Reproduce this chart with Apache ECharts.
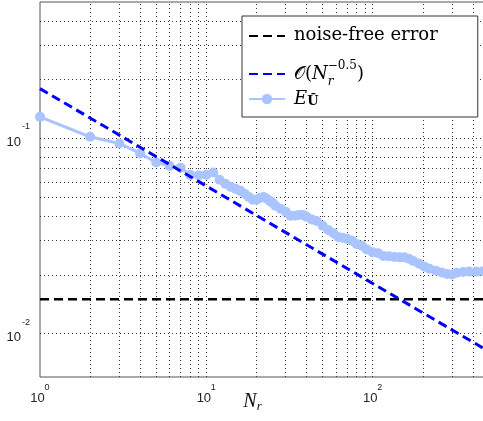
<!DOCTYPE html>
<html>
<head>
<meta charset="utf-8">
<script src="https://cdn.jsdelivr.net/npm/echarts@6/dist/echarts.min.js"></script>
<style>
  html, body { margin: 0; padding: 0; background: #ffffff; }
  #chart { width: 483px; height: 421px; }
</style>
</head>
<body>
<div id="chart"></div>
<script>
// Number of realisations N_r and the measured error E_Ū
const samples = [1, 2, 3, 4, 5, 6, 7, 8, 9, 10, 11, 12, 13, 14, 15, 16, 17, 18, 19, 20, 21, 22, 23, 24, 25, 26,
  28, 30, 32, 34, 36, 38, 40,
  43, 46, 50, 54, 58, 62, 66, 70, 75, 80, 86, 92, 100,
  108, 116, 125, 135, 145, 155, 165, 175, 190, 205, 220, 240, 260, 280, 300, 320, 350, 380, 420, 460, 500];
const errors = [0.129, 0.102, 0.0943, 0.0838, 0.0753, 0.0724, 0.0708, 0.0651, 0.0648, 0.0651,
  0.0669, 0.0614, 0.0586, 0.0565, 0.0552, 0.0539, 0.052, 0.0502, 0.0485, 0.0485, 0.0496, 0.0502, 0.0493, 0.0479, 0.0468, 0.0452,
  0.0436, 0.0421, 0.0402, 0.0402, 0.0406, 0.0406, 0.0397,
  0.0385, 0.0378, 0.0357, 0.034, 0.0327, 0.0313, 0.031, 0.0306, 0.0299, 0.0288, 0.0282, 0.027, 0.0261,
  0.0258, 0.025, 0.0249, 0.0247, 0.0246, 0.0246, 0.0242, 0.0236, 0.0228, 0.022, 0.0215, 0.021, 0.0206, 0.0202, 0.0201, 0.0205, 0.0207, 0.0208, 0.0208, 0.0209, 0.0209];

// Reference lines
const noiseFreeX = [1, 500];
const noiseFreeY = [0.015, 0.015];
const rateX = [1, 500];
const rateY = [0.18, 0.0081];

// Axis ranges and log grid positions
const xRange = [1, 500];
const yRange = [0.006, 0.5];
const xGridValues = [2, 3, 4, 5, 6, 7, 8, 9, 10, 20, 30, 40, 50, 60, 70, 80, 90, 100, 200, 300, 400];
const yGridValues = [0.007, 0.008, 0.009, 0.01, 0.02, 0.03, 0.04, 0.05, 0.06, 0.07, 0.08, 0.09, 0.1, 0.2, 0.3, 0.4];

const pairs = (xs, ys) => xs.map((x, i) => [x, ys[i]]);

// Decade label: the exponent sits on its own short line, shifted so it
// lands just above and to the right of "10".
const powerLabel = v => {
  const e = Math.round(Math.log10(v));
  return '{s|' + e + '}\n{b|10}';
};

const xTickRich = {
  s: { fontFamily: 'Liberation Sans', fontSize: 9, lineHeight: 8, padding: [0, 0, 0, 14], color: '#222' },
  b: { fontFamily: 'Liberation Sans', fontSize: 13, lineHeight: 12, padding: [0, 5, 0, 0], color: '#222' }
};
const yTickRich = {
  s: { fontFamily: 'Liberation Sans', fontSize: 9, lineHeight: 7, color: '#222' },
  b: { fontFamily: 'Liberation Sans', fontSize: 13, lineHeight: 23, padding: [0, 9, 0, 0], color: '#222' }
};

const serif = 'DejaVu Serif';
const legendRich = {
  t: { fontFamily: serif, fontSize: 18, lineHeight: 20, color: '#000', padding: [0, 0, 14, 4], verticalAlign: 'top' },
  t2: { fontFamily: serif, fontSize: 18, lineHeight: 20, color: '#000' },
  o: { fontFamily: serif, fontSize: 18, lineHeight: 20, color: '#000', padding: [0, 0, 0, 4] },
  it: { fontFamily: serif, fontStyle: 'italic', fontSize: 18, lineHeight: 20, color: '#000' },
  rs: { fontFamily: serif, fontStyle: 'italic', fontSize: 12, lineHeight: 12, width: 0, align: 'left', verticalAlign: 'bottom', color: '#000' },
  sup: { fontFamily: serif, fontSize: 12, lineHeight: 12, verticalAlign: 'top', color: '#000' },
  e: { fontFamily: serif, fontStyle: 'italic', fontSize: 18, lineHeight: 18, padding: [0, 0, 6, 4], verticalAlign: 'top', color: '#000' },
  ub: { fontFamily: serif, fontWeight: 'bold', fontSize: 13, lineHeight: 16, verticalAlign: 'bottom', color: '#000' },
  pad: { fontSize: 1, lineHeight: 28, width: 0 }
};

const chart = echarts.init(document.getElementById('chart'), null, { renderer: 'canvas' });

const gridLineStyle = { type: [1, 3], color: '#333', width: 1 };

chart.setOption({
  animation: false,
  backgroundColor: '#ffffff',
  grid: {
    left: 40, top: 2, right: -6, bottom: 44,
    outerBoundsMode: 'none', containLabel: false,
    show: true, borderColor: '#555', borderWidth: 1, backgroundColor: 'transparent'
  },
  xAxis: {
    type: 'log', logBase: 10, min: xRange[0], max: xRange[1],
    axisLine: { show: false }, axisTick: { show: false }, splitLine: { show: false },
    axisLabel: { formatter: powerLabel, rich: xTickRich, margin: 7, showMaxLabel: false },
    name: '{n|N}{r|r}', nameLocation: 'middle', nameGap: 14, nameMoveOverlap: false,
    nameTextStyle: {
      padding: [0, 24, 0, 0],
      rich: {
        n: { fontFamily: 'Liberation Serif', fontStyle: 'italic', fontSize: 20, lineHeight: 22, color: '#111' },
        r: { fontFamily: 'Liberation Serif', fontStyle: 'italic', fontSize: 13, lineHeight: 12, color: '#111', verticalAlign: 'bottom' }
      }
    }
  },
  yAxis: {
    type: 'log', logBase: 10, min: yRange[0], max: yRange[1],
    axisLine: { show: false }, axisTick: { show: false }, splitLine: { show: false },
    axisLabel: { formatter: powerLabel, rich: yTickRich, margin: 10, showMinLabel: false, showMaxLabel: false }
  },
  legend: {
    data: [
      { name: 'noise-free error', itemStyle: { opacity: 0 } },
      { name: 'rate', itemStyle: { opacity: 0 } },
      { name: 'error' }
    ],
    orient: 'vertical', left: 242, top: 16,
    padding: [10, 40, 3, 6], itemGap: 2,
    itemWidth: 36, itemHeight: 13,
    backgroundColor: '#ffffff', borderColor: '#333', borderWidth: 1,
    selectedMode: false,
    formatter: name => {
      if (name === 'noise-free error') return '{t|noise-free error}';
      if (name === 'rate') return '{o|𝒪(}{it|N}{rs|r}{sup|−0.5}{t2|)}{pad|}';
      return '{e|E}{ub|Ū}';
    },
    textStyle: { color: '#000', rich: legendRich }
  },
  series: [
    {
      name: 'grid', type: 'line', data: [], z: 1, silent: true,
      markLine: {
        silent: true, symbol: ['none', 'none'], z: 1, animation: false,
        label: { show: false },
        lineStyle: gridLineStyle,
        emphasis: { disabled: true },
        data: xGridValues.map(v => ({ xAxis: v })).concat(yGridValues.map(v => ({ yAxis: v })))
      }
    },
    {
      name: 'noise-free error', type: 'line', data: pairs(noiseFreeX, noiseFreeY), z: 3,
      showSymbol: false, symbol: 'none', color: '#000000',
      lineStyle: { color: '#000000', width: 2.5, type: [9, 5] }
    },
    {
      name: 'rate', type: 'line', data: pairs(rateX, rateY), z: 4,
      showSymbol: false, symbol: 'none', color: '#0000ff',
      lineStyle: { color: '#0000ff', width: 3, type: [9, 5] }
    },
    {
      name: 'error', type: 'line', data: pairs(samples, errors), z: 3,
      symbol: 'circle', symbolSize: 10, color: '#aac4ff',
      itemStyle: { color: '#aac4ff' },
      lineStyle: { color: '#aac4ff', width: 3 }
    }
  ]
});
</script>
</body>
</html>
